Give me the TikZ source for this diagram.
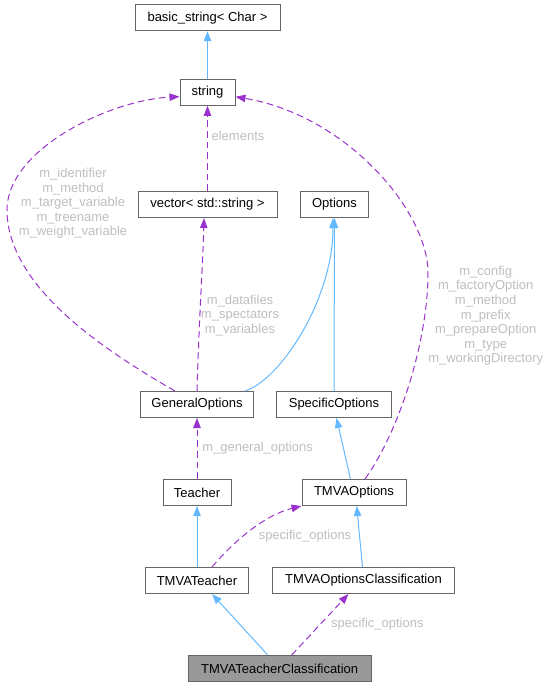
\documentclass[tikz,border=0pt]{standalone}
\usepackage{fontspec}
\setmainfont{Liberation Sans}
\usepackage{tikz}
\usetikzlibrary{arrows.meta, calc}
\definecolor{edgeblue}{HTML}{63B8FF}
\definecolor{edgepurple}{HTML}{9A32CD}
\definecolor{boxgray}{HTML}{666666}
\definecolor{labelgray}{HTML}{BEBEBE}
\definecolor{fillgray}{HTML}{999999}
\newcommand{\drawinh}{\draw[inh]}
\newcommand{\drawmem}{\draw[mem]}
\newcommand{\smallfont}{\fontsize{9.75}{10.95}\selectfont}

\begin{document}
\begin{tikzpicture}[x=0.75pt, y=-0.75pt, >={Triangle[length=7.5pt,width=5.6pt]},
  clsbox/.style={draw=boxgray, fill=white, line width=0.75pt, minimum height=19.5pt,
    minimum width=#1*0.75pt, inner sep=0pt, font=\smallfont},
  inh/.style={->, edgeblue, line width=0.75pt},
  mem/.style={->, edgepurple, line width=0.75pt, dash pattern=on 5pt off 3pt},
  lbl/.style={text=labelgray, align=center, inner sep=0pt, font=\smallfont}]
\useasboundingbox (0,0) rectangle (550,687);

% Classes
\node[clsbox=145] (bstr) at (207.5,17.7) {basic\_string< Char >};
\node[clsbox=55] (str) at (207.5,92.3) {string};
\node[clsbox=139] (vec) at (207.5,204.5) {vector< std::string >};
\node[clsbox=68] (opts) at (334.5,204.5) {Options};
\node[clsbox=113] (genopt) at (197,404.5) {GeneralOptions};
\node[clsbox=115] (specopt) at (334,404.5) {SpecificOptions};
\node[clsbox=68] (teacher) at (197,492.5) {Teacher};
\node[clsbox=104] (tmvaopt) at (354,492.5) {TMVAOptions};
\node[clsbox=103] (tmvateach) at (197,580.5) {TMVATeacher};
\node[clsbox=182] (optcls) at (363.5,580.5) {TMVAOptionsClassification};
\node[clsbox=183, fill=fillgray] (tchcls) at (279.7,668.5) {TMVATeacherClassification};

% Inheritance
\drawinh (str) -- (bstr);
\drawinh ($(genopt.north)+(48,0)$) .. controls (280,380) and (333,300) .. ($(opts.south)+(-1.5,0)$);
\drawinh (specopt) -- (opts);
\drawinh ($(tmvaopt.north)+(-3.5,0)$) -- ($(specopt.south)+(2.5,0)$);
\drawinh (tmvateach) -- (teacher);
\drawinh ($(optcls.north)+(-1,0)$) -- ($(tmvaopt.south)+(2.7,0)$);
\drawinh ($(tchcls.north)+(-12,0)$) -- ($(tmvateach.south)+(15,0)$);

% Members
\drawmem (vec) -- (str);
\drawmem ($(genopt.north)+(-22,0)$) .. controls (95,345) and (10,285) .. (7,213)
  .. controls (4,150) and (110,100) .. ($(str.west)+(0,4.4)$);
\drawmem (genopt.north) .. controls (199,320) and (203,260) .. ($(vec.south)+(-3.5,0)$);
\drawmem ($(tmvaopt.north)+(11,0)$) .. controls (400,430) and (428,340) .. (428,273)
  .. controls (428,210) and (345,115) .. ($(str.east)+(0,4.5)$);
\drawmem (teacher) -- (genopt);
\drawmem ($(tmvateach.north)+(15,0)$) .. controls (235,540) and (265,515) .. (tmvaopt.south west);
\drawmem ($(tchcls.north)+(12,0)$) -- ($(optcls.south)+(-15,0)$);

% Labels
\node[lbl] (lelem) at (238,136) {elements};
\node[lbl] (lgen) at (73,203.3) {m\_identifier\\m\_method\\m\_target\_variable\\m\_treename\\m\_weight\_variable};
\node[lbl] (ldata) at (240,315.5) {m\_datafiles\\m\_spectators\\m\_variables};
\node[lbl] (lcfg) at (485.7,315.8) {m\_config\\m\_factoryOption\\m\_method\\m\_prefix\\m\_prepareOption\\m\_type\\m\_workingDirectory};
\node[lbl, anchor=west] (lgopt) at (202,448) {m\_general\_options};
\node[lbl] (lspec) at (305,536) {specific\_options};
\node[lbl] (lspeccls) at (377.3,623.7) {specific\_options};
\end{tikzpicture}
\end{document}
